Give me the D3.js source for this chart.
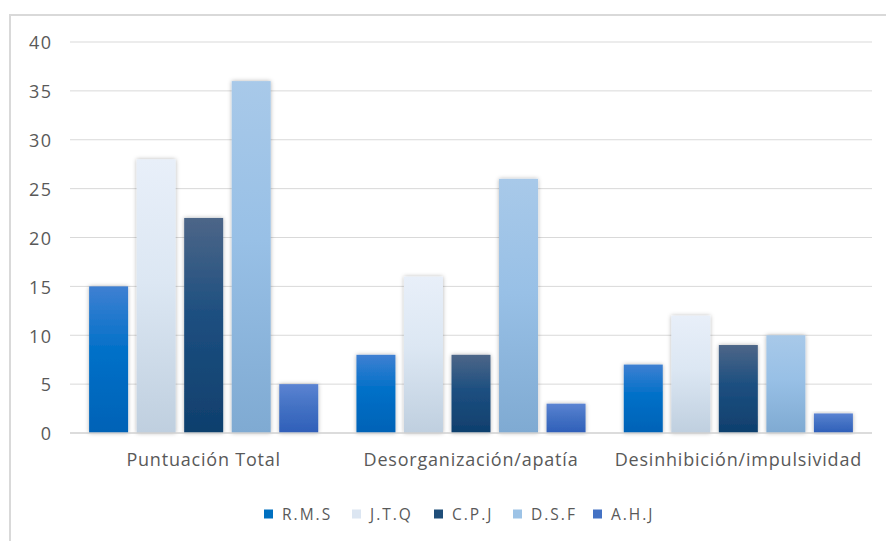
<!DOCTYPE html>
<html>
<head>
<meta charset="utf-8">
<script src="https://cdn.jsdelivr.net/npm/d3@7/dist/d3.min.js"></script>
<style>
  html, body { margin: 0; padding: 0; background: #fff; }
  svg { display: block; }
  text { font-family: "Open Sans", sans-serif; fill: #595959; }
</style>
</head>
<body>
<svg id="chart" width="886" height="541"></svg>
<script>
// Categories on the x axis
const categories = ["Puntuación Total", "Desorganización/apatía", "Desinhibición/impulsividad"];
// Series (one per person) and their values per category
const seriesNames = ["R.M.S", "J.T.Q", "C.P.J", "D.S.F", "A.H.J"];
const valuesRMS = [15, 8, 7];
const valuesJTQ = [28, 16, 12];
const valuesCPJ = [22, 8, 9];
const valuesDSF = [36, 26, 10];
const valuesAHJ = [5, 3, 2];
const yTicks = [0, 5, 10, 15, 20, 25, 30, 35, 40];

const seriesValues = [valuesRMS, valuesJTQ, valuesCPJ, valuesDSF, valuesAHJ];
// Gradient stops (top, middle, bottom) and legend swatch colour per series
const seriesStyle = [
  { top: "#3f80d2", mid: "#0070c8", bot: "#0062b6", swatch: "#0070c0" },
  { top: "#e8eff9", mid: "#dce7f3", bot: "#bfcfdf", swatch: "#dce6f2" },
  { top: "#4d6688", mid: "#1d4f80", bot: "#0f3f6d", swatch: "#1f4e79" },
  { top: "#a8c9e9", mid: "#98c0e6", bot: "#7faad2", swatch: "#9dc3e6" },
  { top: "#5b83d2", mid: "#4472c4", bot: "#2f5fb9", swatch: "#4472c4" }
];

const svg = d3.select("#chart");
const defs = svg.append("defs");

seriesStyle.forEach((s, i) => {
  const g = defs.append("linearGradient")
    .attr("id", "grad" + i).attr("x1", 0).attr("y1", 0).attr("x2", 0).attr("y2", 1);
  g.append("stop").attr("offset", "0%").attr("stop-color", s.top);
  g.append("stop").attr("offset", "45%").attr("stop-color", s.mid);
  g.append("stop").attr("offset", "100%").attr("stop-color", s.bot);
});

const shadow = defs.append("filter").attr("id", "shadow")
  .attr("x", "-30%").attr("y", "-10%").attr("width", "160%").attr("height", "120%");
shadow.append("feDropShadow").attr("dx", 0).attr("dy", 0)
  .attr("stdDeviation", 2).attr("flood-color", "#000").attr("flood-opacity", 0.3);

// Outer chart frame
svg.append("rect")
  .attr("x", 10).attr("y", 15).attr("width", 890).attr("height", 540)
  .attr("fill", "#fff").attr("stroke", "#d9d9d9").attr("stroke-width", 2);

const plot = { left: 70, right: 872, top: 42, bottom: 433 };

const y = d3.scaleLinear().domain([0, 40]).range([plot.bottom, plot.top]);
const x0 = d3.scaleBand().domain(categories).range([plot.left, plot.right]).paddingInner(0.143).paddingOuter(0.0715);
const x1 = d3.scaleBand().domain(seriesNames).range([0, x0.bandwidth()]).paddingInner(0.18);

// Horizontal gridlines
svg.append("g")
  .selectAll("line")
  .data(yTicks.filter(t => t > 0))
  .join("line")
  .attr("x1", plot.left).attr("x2", plot.right)
  .attr("y1", d => y(d)).attr("y2", d => y(d))
  .attr("stroke", "#d9d9d9").attr("stroke-width", 1);

// Y axis labels
const yAxis = svg.append("g")
  .attr("transform", `translate(52.5,0)`)
  .call(d3.axisLeft(y).tickValues(yTicks).tickSize(0).tickPadding(0));
yAxis.select(".domain").remove();
yAxis.selectAll("text").style("font-size", "18px").style("letter-spacing", "1.5px")
  .attr("fill", "#595959").attr("dy", "0.38em");

// Bars
const groups = svg.append("g").selectAll("g")
  .data(categories)
  .join("g")
  .attr("transform", d => `translate(${x0(d)},0)`);

groups.selectAll("rect")
  .data((c, ci) => seriesNames.map((s, si) => ({ s, si, v: seriesValues[si][ci] })))
  .join("rect")
  .attr("x", d => x1(d.s))
  .attr("y", d => y(d.v))
  .attr("width", x1.bandwidth())
  .attr("height", d => y(0) - y(d.v))
  .attr("fill", d => `url(#grad${d.si})`)
  .attr("filter", "url(#shadow)");

// Baseline
svg.append("line")
  .attr("x1", plot.left).attr("x2", plot.right)
  .attr("y1", y(0)).attr("y2", y(0))
  .attr("stroke", "#d0d0d0").attr("stroke-width", 1.5);

// X axis category labels
const xAxis = svg.append("g")
  .attr("transform", `translate(0,${plot.bottom})`)
  .call(d3.axisBottom(x0).tickSize(0).tickPadding(20));
xAxis.select(".domain").remove();
xAxis.selectAll("text").style("font-size", "18px").style("letter-spacing", "0.8px")
  .attr("fill", "#595959");

// Legend
const legendX = [264, 352, 434, 513, 593];
const legend = svg.append("g").attr("transform", "translate(0,514)");
const li = legend.selectAll("g")
  .data(seriesNames)
  .join("g")
  .attr("transform", (d, i) => `translate(${legendX[i]},0)`);
li.append("rect")
  .attr("x", 0).attr("y", -4.5).attr("width", 9).attr("height", 9)
  .attr("fill", (d, i) => seriesStyle[i].swatch);
li.append("text")
  .attr("x", 18).attr("y", 0).attr("dy", "0.36em")
  .style("font-size", "15.5px").style("letter-spacing", "2px")
  .text(d => d);
</script>
</body>
</html>
